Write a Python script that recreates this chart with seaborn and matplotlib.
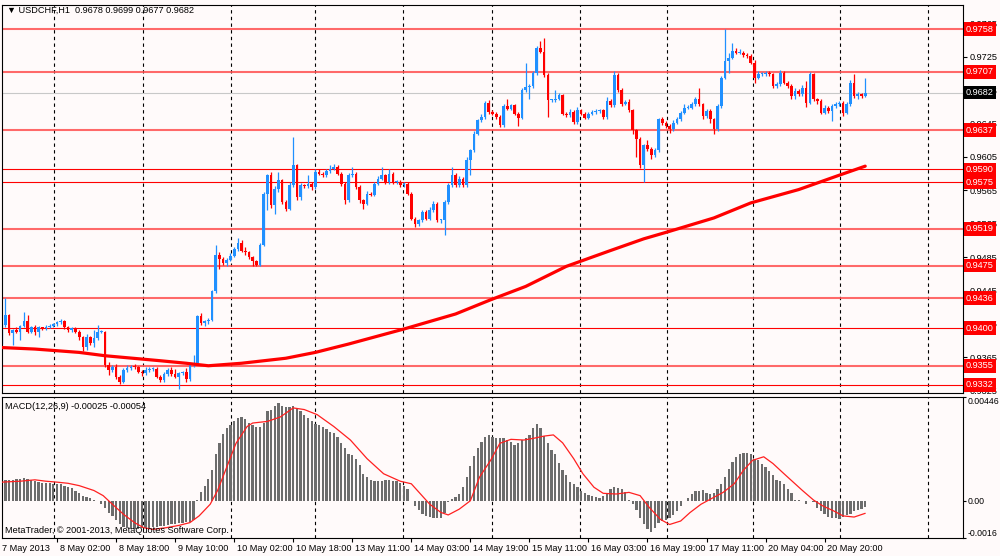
import numpy as np
import pandas as pd
import matplotlib
matplotlib.use("Agg")
import matplotlib.pyplot as plt
import matplotlib.transforms as mtransforms
import seaborn as sns

sns.set_theme(style="white")
plt.rcParams['font.family'] = ['Liberation Sans', 'DejaVu Sans']

# ---- data (prices in pips, i.e. price * 10000) ----
symbol = "USDCHF,H1"
first_open = 9383

closes = [
    9404, 9416, 9394, 9398, 9396, 9403, 9408, 9396, 9401, 9395,
    9401, 9400, 9402, 9403, 9405, 9407, 9408, 9402, 9398, 9400,
    9396, 9389, 9377, 9389, 9382, 9388, 9396, 9396, 9356, 9350,
    9354, 9342, 9336, 9350, 9352, 9354, 9353, 9348, 9346, 9350,
    9351, 9351, 9342, 9338, 9345, 9350, 9345, 9342, 9346, 9347,
    9339, 9356, 9358, 9414, 9406, 9408, 9410, 9444, 9488,
    9483, 9478, 9482, 9487, 9495, 9502, 9493, 9491, 9485, 9480,
    9476, 9500, 9561, 9583, 9547, 9567, 9577, 9551, 9543, 9571,
    9595, 9557, 9571, 9570, 9573, 9569, 9587, 9585, 9583, 9588,
    9591, 9593, 9585, 9573, 9553, 9583, 9585, 9569, 9553, 9549,
    9561, 9560, 9573, 9579, 9583, 9575, 9585, 9575, 9575, 9571,
    9573, 9561, 9531, 9525, 9529, 9539, 9531, 9541, 9549, 9529,
    9529, 9551, 9571, 9583, 9571,
    9579, 9571, 9601, 9613, 9633,
    9649, 9653, 9670, 9659, 9657, 9653, 9643, 9666, 9663, 9667,
    9657, 9652, 9685, 9689, 9690, 9705, 9735, 9731, 9703, 9673,
    9673, 9675, 9679, 9657, 9655, 9659, 9647, 9661, 9657, 9652,
    9657, 9659, 9660, 9661, 9653, 9672, 9667, 9703, 9685, 9669,
    9671, 9661, 9637, 9627, 9595, 9619, 9615, 9607, 9613, 9650,
    9646, 9642, 9638, 9646, 9650, 9658, 9664, 9664, 9668, 9674,
    9668, 9654, 9660, 9650, 9638, 9666, 9700, 9720, 9724, 9732,
    9730, 9730, 9727, 9726, 9718, 9700, 9704, 9704, 9706, 9704,
    9690, 9692, 9706, 9694, 9690, 9678, 9684, 9680, 9688, 9670,
    9704, 9674, 9672, 9658, 9664, 9660, 9666, 9668, 9670, 9658,
    9668, 9694, 9678, 9680, 9678, 9682,
]

up_wick = [
    2, 20, 1, 1, 3, 1, 11, 8, 2, 3, 2, 1, 2, 2, 1, 2, 3, 2, 1, 2,
    1, 2, 2, 4, 2, 10, 8, 2, 1, 4, 2, 3, 2, 2, 4, 2, 3, 2, 2, 3,
    2, 2, 2, 2, 3, 2, 4, 6, 2, 2, 5, 2, 10, 2, 4, 2, 2, 2, 11, 3,
    2, 2, 3, 2, 6, 3, 4, 2, 2, 2, 2, 2, 2, 4, 3, 10, 2, 3, 4, 34,
    2, 3, 2, 10, 2, 4, 4, 2, 3, 4, 3, 2, 2, 2, 3, 8, 2, 2, 2, 3,
    2, 2, 3, 10, 2, 6, 2, 2, 2, 2, 2, 2, 2, 2, 3, 2, 4, 3, 2, 2,
    3, 3, 10, 3, 3, 2, 4, 2, 3, 2, 3, 2, 3, 2, 2, 2, 2, 8, 2, 2,
    2, 3, 28, 2, 3, 3, 9, 17, 2, 2, 10, 3, 2, 2, 3, 2, 4, 2, 2, 2,
    2, 2, 2, 2, 5, 2, 5, 2, 2, 2, 3, 2, 2, 2, 2, 6, 2, 3, 2, 3,
    2, 2, 3, 3, 2, 4, 3, 3, 3, 14, 2, 3, 2, 2, 3, 2, 38, 6, 10, 3,
    4, 2, 3, 2, 3, 4, 3, 2, 2, 2, 3, 3, 2, 2, 2, 3, 2, 3, 8, 3,
    2, 2, 2, 3, 2, 2, 3, 2, 2, 3, 3, 10, 3, 2, 17,
]

dn_wick = [
    2, 2, 2, 14, 2, 10, 2, 2, 2, 3, 6, 2, 2, 2, 1, 2, 2, 3, 2, 2,
    2, 3, 4, 3, 2, 4, 2, 2, 2, 6, 2, 3, 3, 2, 2, 2, 2, 2, 3, 2,
    2, 2, 2, 3, 2, 2, 2, 2, 15, 2, 3, 2, 2, 2, 2, 3, 3, 2, 2, 12,
    2, 3, 2, 2, 2, 2, 3, 2, 5, 2, 2, 2, 20, 3, 10, 4, 2, 3, 2, 2,
    3, 4, 2, 2, 3, 2, 2, 2, 2, 2, 2, 2, 3, 4, 2, 2, 2, 3, 6, 2,
    2, 2, 2, 2, 2, 2, 2, 2, 2, 2, 2, 2, 4, 3, 2, 2, 2, 2, 2, 3,
    18, 2, 2, 2, 2, 2, 2, 18, 2, 2, 2, 2, 2, 2, 2, 2, 2, 2, 2, 2,
    10, 2, 2, 15, 2, 2, 2, 2, 20, 2, 2, 2, 2, 2, 2, 3, 2, 2, 2, 2,
    2, 2, 2, 3, 2, 2, 2, 2, 3, 2, 2, 4, 22, 3, 20, 3, 4, 2, 2, 3,
    2, 4, 2, 2, 2, 2, 2, 2, 2, 2, 3, 2, 4, 6, 2, 2, 2, 14, 2, 2,
    2, 2, 2, 2, 6, 2, 2, 2, 2, 2, 3, 2, 2, 2, 4, 3, 2, 2, 5, 2,
    2, 3, 2, 2, 2, 12, 2, 2, 4, 2, 2, 2, 3, 2, 1,
]

# moving average (sampled along the bars)
ma_bar = [0, 10, 22, 29, 44, 51, 57, 66, 78, 86, 95, 110, 124, 133.5, 143,
          154, 166, 175, 182, 194, 204, 217, 228.5, 235]
ma_val = [9377, 9375, 9371, 9367, 9361, 9358, 9355, 9358, 9364, 9371, 9381,
          9399, 9417, 9434, 9450, 9474, 9493, 9507, 9516, 9532, 9550, 9566,
          9584, 9594]

# MACD main (histogram), units of 1e-5
macd_hist = [
    91, 91, 90, 90, 93, 94, 96, 94, 90,
    83, 80, 77, 75, 75, 74,
    73, 70, 65, 61, 54, 44, 33, 22,
    15, 12, 3, -3, -15,
    -29, -51, -65, -84, -102, -113, -119, -123,
    -123, -120, -119, -116,
    -116, -113, -113, -110, -107,
    -104, -102, -99, -97, -94, -91,
    -90, -84, 3,
    36, 65, 94, 133, 203, 249, 287, 312, 326, 341, 355, 360, 351, 334, 326, 319, 315, 334,
    384, 392, 409, 418, 406, 403, 403, 406, 399, 384, 370, 355, 341, 331, 326, 319, 307, 297, 290,
    276, 249, 225, 203, 196, 181, 152, 116, 102, 90, 84, 84, 87, 90, 90, 84, 84, 75, 65, 51,
    0, -22, -41, -58, -65, -70, -73, -75,
    -73, -51, -7, 7, 17, 29, 58, 104, 148, 191, 225, 254, 276, 283, 276, 271,
    271, 271, 261, 254, 239, 249, 261, 268, 283, 312, 331, 312, 278, 247, 220,
    200, 162, 131, 109, 80, 73, 58, 41, 32, 26, 22, 17, 12, 22, 32, 51, 58, 55, 51, 36,
    3, -15, -41, -73, -99, -123, -133, -116, -94, -87, -84, -75, -61, -44, -22, -3, 12, 29, 41, 44,
    46, 32, 29, 32, 51, 73, 104, 138, 167, 186, 200, 206, 206, 200, 181, 174, 157, 145, 128, 109,
    90, 84, 73, 51, 32, 4, 3, -3, -12, -3, -7, -29, -44, -58, -70, -73, -75, -80, -70, -61,
    -55, -46, -41, -36, -25,
]

# MACD signal line (sampled along the bars), units of 1e-5
sig_bar = [1, 6, 10, 13, 16, 19, 22, 26, 28.5, 31, 34, 37, 39.5, 42, 45.5, 49, 52,
           54.5, 57.5, 59.5, 62, 64.5, 67.5, 69, 73, 76.5, 80, 83, 86.5, 91, 95.5,
           100, 104.5, 109, 112, 114.5, 117, 120, 122, 125, 128, 130.5, 133.5, 136,
           139, 142.5, 145, 148, 150.5, 153, 156, 158.5, 161.5, 164, 167.5, 171, 174,
           176.5, 179.5, 182, 185, 187.5, 190.5, 194, 196.5, 199.5, 202, 204.5, 207.5,
           210, 213, 215.5, 218, 221, 223.5, 226.5, 229, 232, 235]
sig_val = [80, 84, 90, 84, 80, 75, 65, 44, 22, -15, -58, -94, -116, -123, -116, -106,
           -94, -65, -15, 44, 145, 247, 319, 334, 341, 360, 399, 392, 370, 319, 261,
           181, 116, 84, 73, 29, -15, -50, -61, -36, 0, 102, 174, 247, 264, 261, 268,
           278, 283, 249, 181, 116, 58, 32, 29, 36, 22, -29, -80, -102, -87, -51, -15,
           15, 36, 73, 131, 174, 189, 160, 116, 80, 44, 3, -22, -44, -65, -70, -54]

levels_soft = [0.9758, 0.9707, 0.9637, 0.9519, 0.9475, 0.9436, 0.9355]
levels_hard = [0.9590, 0.9575, 0.9400, 0.9332]
bid_line = 0.9682

day_sep = [15.2, 39.3, 63.1, 85.9, 109.8, 133.9, 157.7, 181.3, 204.6, 228.2, 252]

tick_bars = [16, 32, 48, 64, 80, 96, 112, 128, 144, 160, 176, 192, 208, 224]
tick_labels = ["8 May 02:00", "8 May 18:00", "9 May 10:00", "10 May 02:00",
               "10 May 18:00", "13 May 11:00", "14 May 03:00", "14 May 19:00",
               "15 May 11:00", "16 May 03:00", "16 May 19:00", "17 May 11:00",
               "20 May 04:00", "20 May 20:00"]
first_label = "7 May 2013"

price_ticks = [0.9325, 0.9365, 0.9405, 0.9445, 0.9485, 0.9525, 0.9565,
               0.9605, 0.9645, 0.9685, 0.9725, 0.9765]

# ---- derived OHLC ----
c = np.array(closes) / 1e4
o = np.r_[first_open, closes[:-1]] / 1e4
h = np.maximum(o, c) + np.array(up_wick) / 1e4
l = np.minimum(o, c) - np.array(dn_wick) / 1e4
x = np.arange(1, len(c) + 1)
macd = np.array(macd_hist) / 1e5
df_ma = pd.DataFrame({"bar": ma_bar, "ma": np.array(ma_val) / 1e4})
df_sig = pd.DataFrame({"bar": sig_bar, "sig": np.array(sig_val) / 1e5})

bg = "#fffafa"
blue = "#2090ff"
red = "#ff0000"
fs = 6.6

fig = plt.figure(figsize=(10, 5.56), dpi=100, facecolor=bg)
ax1 = fig.add_axes([0.002, 0.2932, 0.961, 0.698], facecolor=bg)
ax2 = fig.add_axes([0.002, 0.0324, 0.961, 0.2536], facecolor=bg)

xlim = (1.084, 261.5)
for ax in (ax1, ax2):
    ax.set_xlim(*xlim)
    for s in ax.spines.values():
        s.set_color("black")
        s.set_linewidth(0.8)
    for d in day_sep:
        ax.axvline(d, color="black", lw=0.8, ls=(0, (3, 3)), zorder=1)

# ---- main price panel ----
ax1.set_ylim(0.93224, 0.97871)
for lv in levels_soft:
    ax1.axhline(lv, color="#ff5050", lw=1.5, alpha=0.85, zorder=1.2)
for lv in levels_hard:
    ax1.axhline(lv, color=red, lw=0.8, zorder=1.2)
ax1.axhline(bid_line, color="#c8c8c8", lw=0.8, zorder=1.1)

up = c >= o
colors = np.where(up, blue, red)
ax1.vlines(x, l, h, colors=colors, lw=0.9, zorder=2)
body = np.maximum(np.abs(c - o), 0.00012)
ax1.bar(x, body, bottom=np.minimum(o, c), width=0.72, color=colors,
        linewidth=0, zorder=2.1)

sns.lineplot(data=df_ma, x="bar", y="ma", ax=ax1, color=red, lw=2.3,
             zorder=3, estimator=None)

ax1.yaxis.tick_right()
ax1.set_yticks(price_ticks)
ax1.set_yticklabels([f"{p:.4f}" for p in price_ticks])
ax1.tick_params(axis="y", direction="out", length=3, width=0.8, pad=2,
                labelsize=fs, colors="black", right=True, left=False)
ax1.set_xticks([])
ax1.set_xlabel("")
ax1.set_ylabel("")

btrans = mtransforms.blended_transform_factory(ax1.transAxes, ax1.transData)
for lv in levels_soft + levels_hard:
    ax1.text(1.003, lv, f"{lv:.4f}", transform=btrans, ha="left", va="center",
             fontsize=fs, color="white", zorder=6, clip_on=False,
             bbox=dict(boxstyle="square,pad=0.25", fc=red, ec="none"))
ax1.text(1.003, bid_line, f"{bid_line:.4f}", transform=btrans, ha="left",
         va="center", fontsize=fs, color="white", zorder=6, clip_on=False,
         bbox=dict(boxstyle="square,pad=0.25", fc="black", ec="none"))

ax1.text(0.005, 0.987,
         f"\u25bc {symbol}  {o[-1]:.4f} {h[-1]:.4f} {l[-1]:.4f} {c[-1]:.4f}",
         transform=ax1.transAxes, ha="left", va="center", fontsize=fs,
         color="black", zorder=6)

# ---- MACD panel ----
ax2.set_ylim(-0.00156, 0.00446)
ax2.bar(x, macd, width=0.62, color="#6c6c6c", linewidth=0, zorder=2)
sns.lineplot(data=df_sig, x="bar", y="sig", ax=ax2, color="#ff2020", lw=0.9,
             zorder=3, estimator=None)
ax2.yaxis.tick_right()
ax2.set_yticks([0.00446, 0.0, -0.0016])
ax2.set_yticklabels(["0.00446", "0.00", "-0.0016"])
ax2.tick_params(axis="y", direction="out", length=2.5, width=0.8, pad=1,
                labelsize=6.3, colors="black", right=True, left=False)
ylabs = ax2.get_yticklabels()
ylabs[0].set_va("top")
ylabs[2].set_va("bottom")
ax2.set_xlabel("")
ax2.set_ylabel("")

ax2.set_xticks(tick_bars)
ax2.set_xticklabels([])
ax2.tick_params(axis="x", direction="out", length=3, width=0.8, bottom=True,
                colors="black")
xtrans = mtransforms.blended_transform_factory(ax2.transData, ax2.transAxes)
for b, lab in zip(tick_bars, tick_labels):
    ax2.text(b + 0.7, -0.075, lab, transform=xtrans, ha="left", va="center",
             fontsize=fs, color="black", clip_on=False)
ax2.text(0.0, -0.075, first_label, transform=ax2.transAxes, ha="left",
         va="center", fontsize=fs, color="black", clip_on=False)

ax2.text(0.003, 0.935,
         f"MACD(12,26,9) {macd[-1]:.5f} {df_sig['sig'].iloc[-1]:.5f}",
         transform=ax2.transAxes, ha="left", va="center", fontsize=fs,
         color="black", zorder=6)
ax2.text(0.003, 0.05, "MetaTrader, \u00a9 2001-2013, MetaQuotes Software Corp.",
         transform=ax2.transAxes, ha="left", va="center", fontsize=fs,
         color="black", zorder=6)

fig.savefig("out.png", dpi=100, facecolor=bg)
